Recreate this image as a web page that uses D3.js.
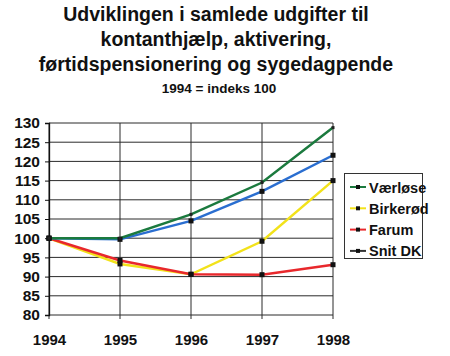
<!DOCTYPE html>
<html><head><meta charset="utf-8">
<script src="https://cdn.jsdelivr.net/npm/d3@7"></script>
<style>body{margin:0;background:#fff}svg{display:block;font-family:"Liberation Sans",Arial,sans-serif}</style>
</head><body><svg width="450" height="356"></svg>
<script>
const years = [1994, 1995, 1996, 1997, 1998];
const vaerloese = [100, 100, 106.2, 114.5, 128.8];
const birkeroed = [100, 93.3, 90.6, 99.2, 115];
const farum = [100, 94.2, 90.6, 90.5, 93.1];
const snitDK = [100, 99.7, 104.5, 112.2, 121.6];
const yTicks = [80, 85, 90, 95, 100, 105, 110, 115, 120, 125, 130];
const titleLines = ["Udviklingen i samlede udgifter til", "kontanthjælp, aktivering,", "førtidspensionering og sygedagpende"];
const subtitle = "1994 = indeks 100";
const seriesNames = ["Værløse", "Birkerød", "Farum", "Snit DK"];
const seriesColors = ["#1b7a3e", "#f2e21a", "#e8282c", "#2a6ed0"];
const seriesData = [vaerloese, birkeroed, farum, snitDK];

const narrow = '"Liberation Sans Narrow", "Arial Narrow", "Liberation Sans", sans-serif';
const svg = d3.select("svg");
const x = d3.scalePoint().domain(years).range([49, 333]);
const y = d3.scaleLinear().domain([80, 130]).range([315, 123]);

// titles
const tY = [21, 46, 71];
titleLines.forEach((t, i) => svg.append("text").attr("x", 216).attr("y", tY[i]).attr("text-anchor", "middle")
  .attr("font-size", 19.5).attr("font-weight", "bold").attr("fill", "#111").text(t));
svg.append("text").attr("x", 219).attr("y", 93).attr("text-anchor", "middle").attr("font-size", 13.5)
  .attr("font-weight", "bold").attr("fill", "#111").attr("font-family", narrow).text(subtitle);

// grid
const g = svg.append("g");
g.selectAll(".h").data(yTicks).join("line").attr("x1", x(1994)).attr("x2", x(1998))
  .attr("y1", d => y(d)).attr("y2", d => y(d)).attr("stroke", "#2a2a2a").attr("stroke-width", 1);
g.selectAll(".v").data(years).join("line").attr("x1", d => x(d)).attr("x2", d => x(d))
  .attr("y1", y(130)).attr("y2", y(80) + 4).attr("stroke", "#2a2a2a").attr("stroke-width", 1);

// y axis
const ya = svg.append("g").attr("transform", `translate(${x(1994)},0)`)
  .call(d3.axisLeft(y).tickValues(yTicks).tickSize(4).tickPadding(5));
ya.select(".domain").attr("stroke", "#111").attr("stroke-width", 1.3);
ya.selectAll("text").attr("font-size", 15.5).attr("font-weight", "bold").attr("fill", "#111")
  .attr("font-family", narrow);
ya.selectAll(".tick line").attr("stroke", "#111");

// x axis
const xa = svg.append("g").attr("transform", `translate(0,${y(80)})`)
  .call(d3.axisBottom(x).tickSize(5).tickPadding(14));
xa.select(".domain").remove();
xa.selectAll(".tick line").remove();
xa.selectAll("text").attr("font-size", 15).attr("font-weight", "bold").attr("fill", "#111")
  .attr("font-family", narrow);

// lines
const line = d3.line().x((d, i) => x(years[i])).y(d => y(d));
const order = [1, 2, 3, 0];
order.forEach(k => {
  svg.append("path").datum(seriesData[k]).attr("d", line).attr("fill", "none")
    .attr("stroke", seriesColors[k]).attr("stroke-width", 2.5);
});
// markers
order.forEach(k => {
  if (k === 0) {
    svg.selectAll(null).data(seriesData[k]).join("rect")
      .attr("x", (d, i) => x(years[i]) - 1.5).attr("y", d => y(d) - 1.5).attr("width", 3).attr("height", 3).attr("fill", "#222");
  } else {
    svg.selectAll(null).data(seriesData[k]).join("rect")
      .attr("x", (d, i) => x(years[i]) - 2.5).attr("y", d => y(d) - 2.5).attr("width", 5).attr("height", 5).attr("fill", "#111");
  }
});

// legend
const lg = svg.append("g");
lg.append("rect").attr("x", 344.5).attr("y", 173.5).attr("width", 78).attr("height", 85)
  .attr("fill", "#fff").attr("stroke", "#333").attr("stroke-width", 1);
seriesNames.forEach((n, i) => {
  const ly = 187 + i * 21.3;
  lg.append("line").attr("x1", 350).attr("x2", 366).attr("y1", ly).attr("y2", ly)
    .attr("stroke", i === 3 ? "#333" : seriesColors[i]).attr("stroke-width", 2);
  lg.append("rect").attr("x", 356).attr("y", ly - 2).attr("width", 4).attr("height", 4).attr("fill", "#111");
  lg.append("text").attr("x", 369).attr("y", ly + 5.5).attr("font-size", 14.5).attr("font-weight", "bold")
    .attr("font-family", narrow).attr("fill", "#111").text(n);
});
</script></body></html>
